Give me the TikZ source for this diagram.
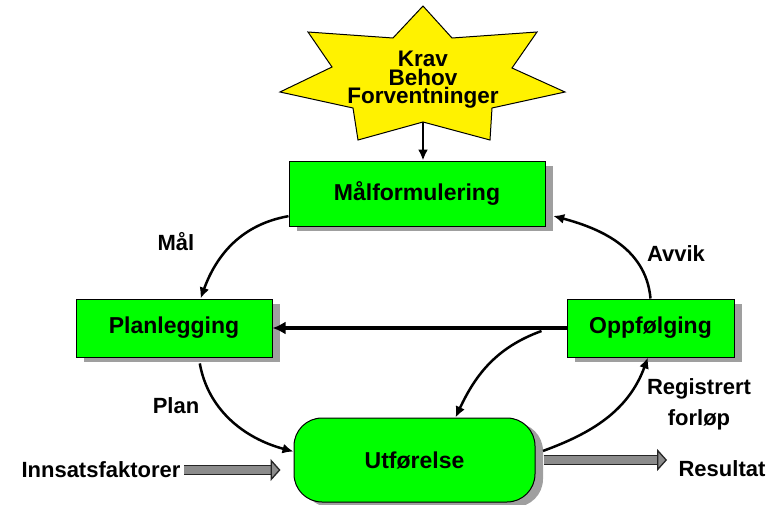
\documentclass[tikz,border=0pt]{standalone}
\usepackage{fontspec}
\setmainfont{Liberation Sans}
\usepackage{tikz}
\usetikzlibrary{shapes, arrows, arrows.meta, positioning, shadows}
\tikzset{
	boks/.style     = {shape=rectangle, draw, line width=1pt,
		fill=green, font=\bfseries\fontsize{23}{25}\selectfont,
		drop shadow={shadow xshift=8pt, shadow yshift=-5pt,
			fill=gray!75, opacity=1}},
	utfoer/.style   = {boks, rounded corners=28pt},
	stjerne/.style  = {draw, line width=1pt, fill=yellow},
	etikett/.style  = {font=\bfseries\fontsize{22}{31}\selectfont, align=center},
	kurve/.style    = {-{Latex[length=11pt, width=10pt]}, line width=2.5pt},
	blokkpil/.style = {draw=black!85, line width=1.3pt, double=black!45,
		double distance=8pt,
		-{Triangle[length=10pt, width=22pt, fill=black!45, line width=1.3pt]}},
}
\tikzstyle{linje} = [draw, line width=4pt, -{Latex[length=13pt, width=13pt]}]

\begin{document}
\begin{tikzpicture}[x=1pt, y=1pt]
\useasboundingbox (0,0) rectangle (772,-504);

% stjerna
\draw [stjerne] (423,-6) -- (452,-38) -- (537,-32) -- (512,-68) -- (565,-92)
	-- (492,-108) -- (490,-140) -- (423,-122) -- (358,-140) -- (353,-108)
	-- (280,-92) -- (332,-67) -- (308,-32) -- (393,-38) -- cycle;
\coordinate (kravbunn) at (423,-122);
\node [font=\bfseries\fontsize{22.5}{18.5}\selectfont, align=center] (krav) at (423,-80)
	{Krav\\Behov\\Forventninger};

% boksene
\node [boks, minimum width=256pt, minimum height=65pt] (maal) at (417,-193.5) {Målformulering};
\node [boks, minimum width=196pt, minimum height=58pt] (plan) at (174,-328) {Planlegging};
\node [boks, minimum width=167pt, minimum height=58pt] (opp) at (650.5,-328) {Oppfølging};
\node [utfoer, minimum width=241pt, minimum height=84pt] (utf) at (414.5,-460) {Utførelse};

% tekstene
\node [etikett] (maltekst) at (176,-242) {Mål};
\node [etikett] (avvik) at (676,-254) {Avvik};
\node [etikett] (plantekst) at (176,-406) {Plan};
\node [etikett] (registrert) at (699,-404) {Registrert\\forløp};
\node [etikett] (innsats) at (101,-470) {Innsatsfaktorer};
\node [etikett] (resultat) at (722,-469) {Resultat};

\coordinate [left=25pt of opp.west, yshift=-3pt] (gren);

% pilene
\draw [kurve] (kravbunn) -- (kravbunn |- maal.north);
\draw [kurve] (maal.190) to[out=190, in=70] (plan.48);
\draw [kurve, shorten >=8pt] (opp.north) to[out=95, in=-15] (maal.-9);
\draw [kurve, shorten <=6pt] (plan.-50) to[out=-80, in=165] (utf.176);
\draw [kurve, shorten <=8pt] (utf.3) to[out=20, in=250] (opp.-95);
\draw [kurve] (gren) to[out=200, in=65] (utf.46);
\path [linje] (opp.west) -- (plan.east);

\draw [blokkpil, shorten >=13pt] (innsats.east) -- (innsats.east -| utf.west);
\draw [blokkpil, shorten <=8pt, shorten >=8pt] (utf.east) -- (utf.east -| resultat.west);
\end{tikzpicture}
\end{document}
